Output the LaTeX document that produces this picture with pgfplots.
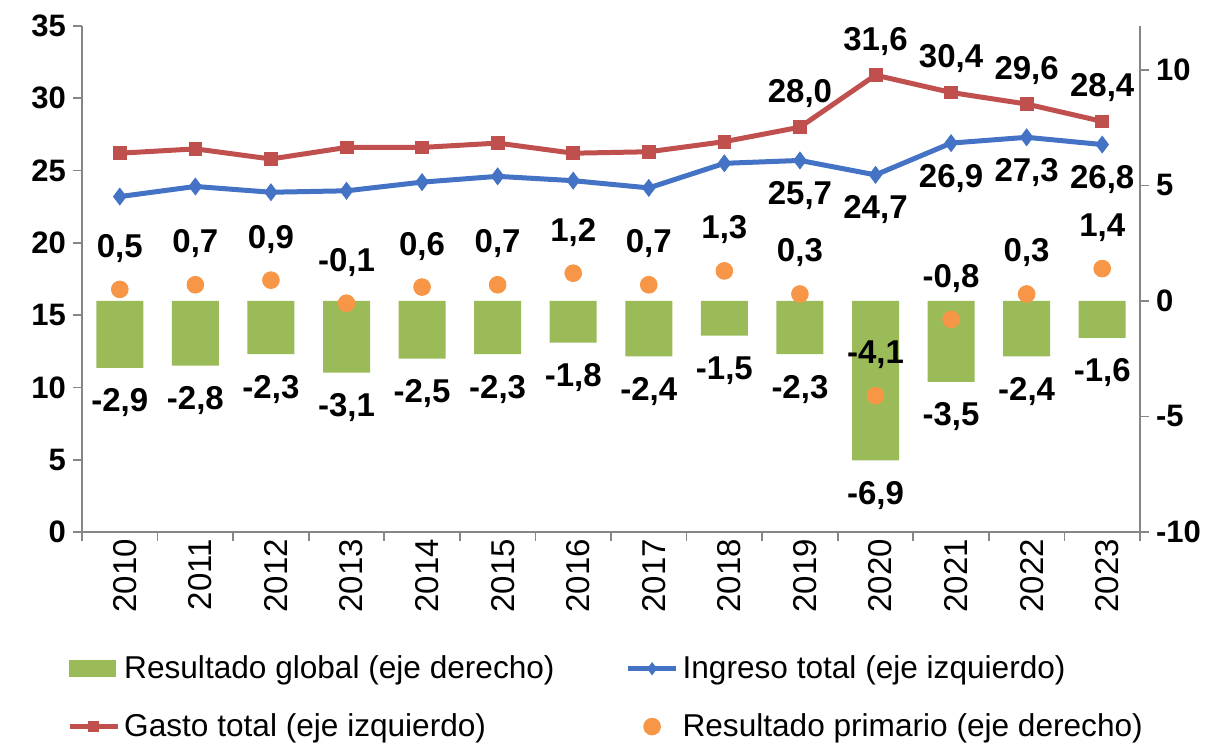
\documentclass[border=0pt]{standalone}
\usepackage{fontspec}
\setmainfont{Liberation Sans}
\usepackage{pgfplots}
\pgfplotsset{compat=1.18}

\definecolor{ingreso}{HTML}{4472C4}
\definecolor{gasto}{HTML}{C0504D}
\definecolor{global}{HTML}{9BBB59}
\definecolor{primario}{HTML}{F79646}
\definecolor{axisgray}{HTML}{868686}

\newcommand{\lblfont}{\bfseries\fontsize{16.5}{19}\selectfont}
\newcommand{\lbl}{\pgfmathprintnumber[assume math mode=true,use comma,fixed,fixed zerofill,precision=1]{\pgfplotspointmeta}}

\pgfplotsset{
  base/.style={
    scale only axis, width=529pt, height=253pt,
    xmin=-0.5, xmax=13.5,
    axis line style={axisgray, line width=0.8pt},
    tick style={axisgray, line width=0.8pt},
    tick align=outside, major tick length=4.5pt,
    /pgf/number format/assume math mode=true,
    yticklabel style={font=\bfseries\fontsize{15.5}{18}\selectfont},
    clip=false,
  },
  leg ingreso/.style={legend image code/.code={
    \draw[ingreso, line width=2.5pt] (0pt,0pt) -- (24pt,0pt);
    \draw[ingreso, line width=0.4pt, mark=diamond*, mark size=3pt] plot coordinates {(12pt,0pt)};}},
  leg gasto/.style={legend image code/.code={
    \draw[gasto, line width=2.5pt] (0pt,0pt) -- (24pt,0pt);
    \draw[gasto, line width=0.4pt, mark=square*, mark size=2.5pt] plot coordinates {(12pt,0pt)};}},
  leg global/.style={legend image code/.code={
    \fill[global] (0pt,-4pt) rectangle (23pt,4pt);}},
  leg primario/.style={legend image code/.code={
    \draw[primario, mark=*, mark size=4.2pt] plot coordinates {(12pt,0pt)};}},
}

\begin{document}
\begin{tikzpicture}
% eje izquierdo: ingreso y gasto
\begin{axis}[base,
    ymin=0, ymax=35, ytick={0,5,...,35},
    axis y line*=left, axis x line*=bottom,
    xtick={-0.5,0.5,...,13.5}, xticklabel=\empty,
    extra x ticks={0,...,13},
    extra x tick labels={2010,2011,2012,2013,2014,2015,2016,2017,2018,2019,2020,2021,2022,2023},
    extra x tick style={major tick length=0pt,
      tick label style={rotate=90, anchor=east, yshift=-2.5pt, font=\fontsize{16.5}{19}\selectfont}},
]
\addplot[gasto, line width=2.5pt, mark=square*, mark size=3.2pt, mark options={line width=0.4pt}]
  coordinates {(0,26.2) (1,26.5) (2,25.8) (3,26.6) (4,26.6) (5,26.9) (6,26.2)
               (7,26.3) (8,27.0) (9,28.0) (10,31.6) (11,30.4) (12,29.6) (13,28.4)};
\addplot[ingreso, line width=2.5pt, mark=diamond*, mark size=4.2pt, mark options={line width=0.4pt}]
  coordinates {(0,23.2) (1,23.9) (2,23.5) (3,23.6) (4,24.2) (5,24.6) (6,24.3)
               (7,23.8) (8,25.5) (9,25.7) (10,24.7) (11,26.9) (12,27.3) (13,26.8)};
% etiquetas de los ultimos anos
\addplot[draw=none, mark=none, nodes near coords=\lbl,
    nodes near coords style={anchor=center, yshift=17pt, text=black, font=\lblfont}]
  coordinates {(9,28.0) (10,31.6) (11,30.4) (12,29.6) (13,28.4)};
\addplot[draw=none, mark=none, nodes near coords=\lbl,
    nodes near coords style={anchor=center, yshift=-17.5pt, text=black, font=\lblfont}]
  coordinates {(9,25.7) (10,24.7) (11,26.9) (12,27.3) (13,26.8)};
\end{axis}

% eje derecho: resultados
\begin{axis}[base,
    ymin=-10, ymax=11.9, ytick={-10,-5,0,5,10},
    axis y line*=right, axis x line=none,
    legend columns=2,
    legend cell align=left,
    legend style={draw=none, fill=none, at={(axis description cs:-0.02,-0.228)}, anchor=north west,
      font=\fontsize{15.8}{18}\selectfont, row sep=12pt,
      /tikz/column 2/.style={column sep=33.5pt}},
]
\addplot[ybar, bar width=23.5pt, fill=global, draw=none, forget plot,
    nodes near coords=\lbl,
    nodes near coords style={anchor=center, yshift=-17.5pt, text=black, font=\lblfont}]
  coordinates {(0,-2.9) (1,-2.8) (2,-2.3) (3,-3.1) (4,-2.5) (5,-2.3) (6,-1.8)
               (7,-2.4) (8,-1.5) (9,-2.3) (10,-6.9) (11,-3.5) (12,-2.4) (13,-1.6)};
\addplot[only marks, mark=*, mark size=4.2pt, primario, forget plot,
    nodes near coords=\lbl,
    nodes near coords style={anchor=center, yshift=20.5pt, text=black, font=\lblfont}]
  coordinates {(0,0.5) (1,0.7) (2,0.9) (3,-0.1) (4,0.6) (5,0.7) (6,1.2)
               (7,0.7) (8,1.3) (9,0.3) (10,-4.1) (11,-0.8) (12,0.3) (13,1.4)};

\addlegendimage{leg global}
\addlegendentry{Resultado global (eje derecho)}
\addlegendimage{leg ingreso}
\addlegendentry{Ingreso total (eje izquierdo)}
\addlegendimage{leg gasto}
\addlegendentry{Gasto total (eje izquierdo)}
\addlegendimage{leg primario}
\addlegendentry{Resultado primario (eje derecho)}
\end{axis}

\pgfresetboundingbox
\path[use as bounding box] (-41pt,-107.5pt) rectangle (567pt,266pt);
\end{tikzpicture}
\end{document}
